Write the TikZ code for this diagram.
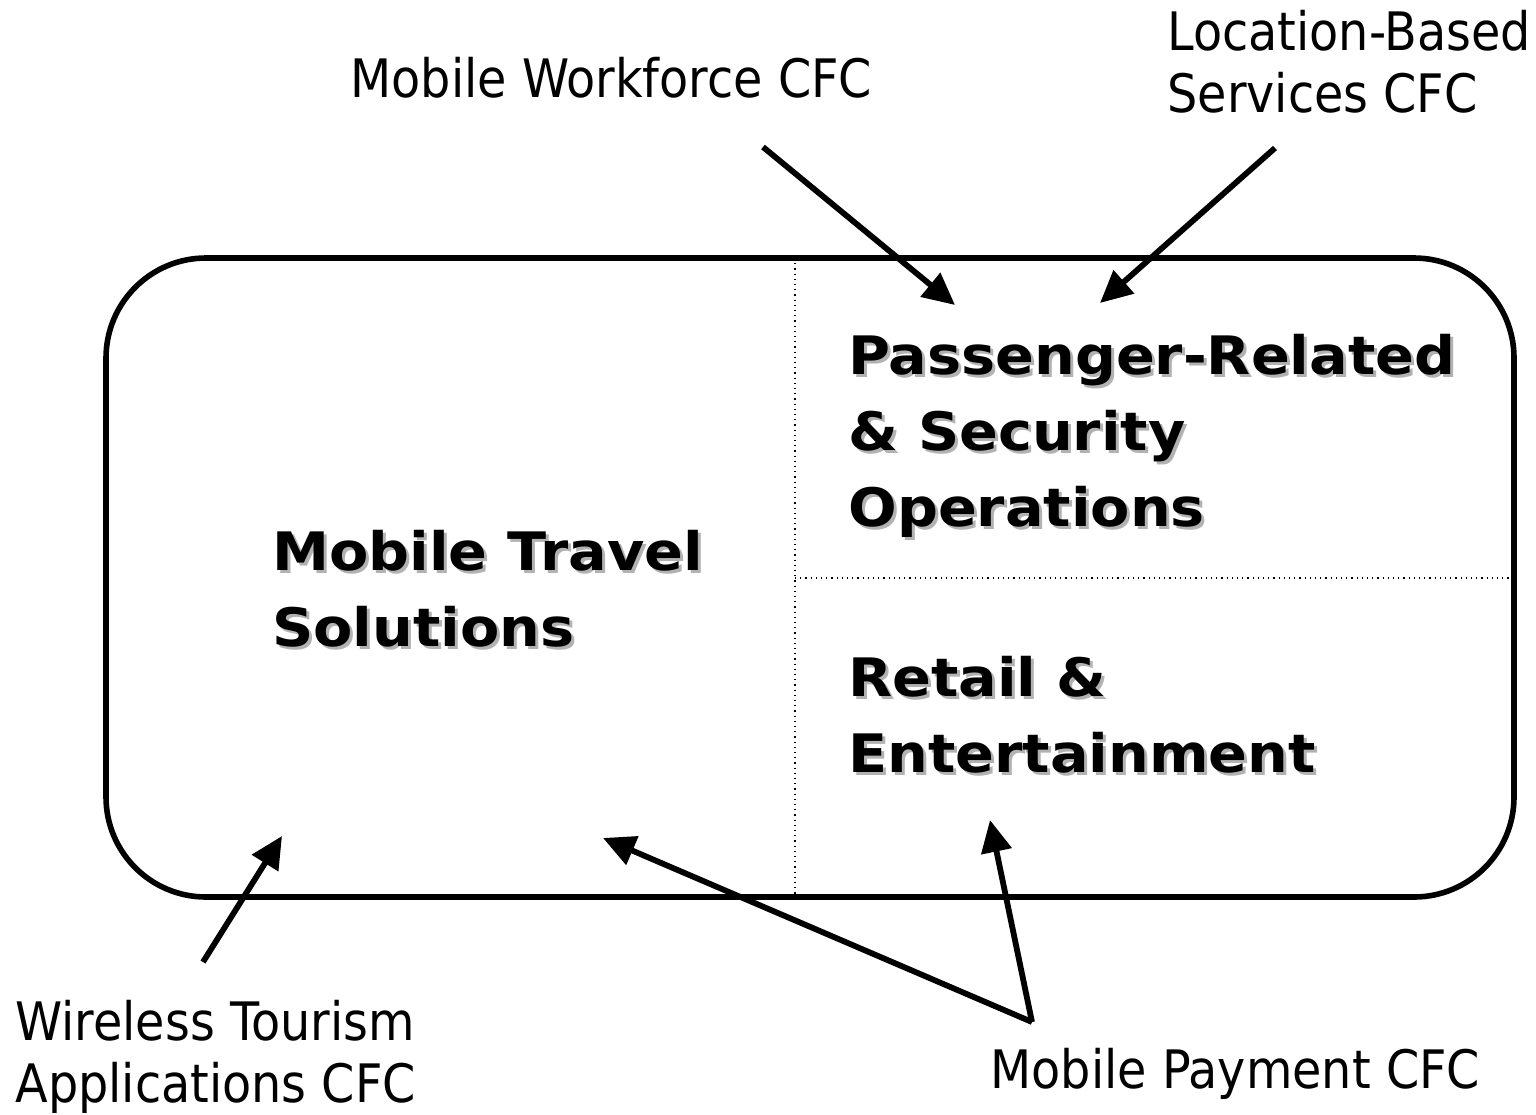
\documentclass[tikz,border=0pt]{standalone}
\usepackage{fontspec}
\setmainfont{DejaVu Sans}[FakeStretch=0.9]
\newfontfamily\bigfont{DejaVu Sans Bold}[FakeStretch=1.08]
\usetikzlibrary{arrows.meta}
\begin{document}
\begin{tikzpicture}[x=0.5pt,y=-0.5pt,
  lbl/.style={inner sep=0pt, anchor=base west, align=left, font=\fontsize{26.5}{31}\selectfont},
  big/.style={inner sep=0pt, anchor=base west, align=left, font=\fontsize{26.5}{38}\bigfont},
  bigshadow/.style={big, text=black!30},
  arr/.style={line width=2.9pt, -{Triangle[length=16pt,width=15pt]}},
  divider/.style={line width=0.6pt, dotted}]
\useasboundingbox (0,0) rectangle (1536,1114);
\fill[white] (0,0) rectangle (1536,1114);
% main box
\draw[line width=2.8pt, rounded corners=50pt] (106,258) rectangle (1514,897);
\coordinate (vtop) at (795,258);
\coordinate (vbot) at (795,897);
\coordinate (hl) at (795,578);
\coordinate (hr) at (1512,578);
\draw[divider] (vtop) -- (vbot);
\draw[divider] (hl) -- (hr);
% bold labels with shadow
\node[bigshadow] at (275,649) {Mobile Travel\\Solutions};
\node[big] (mts) at (272,646) {Mobile Travel\\Solutions};
\node[bigshadow] at (851,529) {Passenger-Related\\\& Security\\Operations};
\node[big] (prs) at (848,526) {Passenger-Related\\\& Security\\Operations};
\node[bigshadow] at (851,775) {Retail \&\\Entertainment};
\node[big] (ret) at (848,772) {Retail \&\\Entertainment};
% outer labels
\node[lbl] (mw) at (350,97) {Mobile Workforce CFC};
\node[lbl] (lbs) at (1167,112) {Location-Based\\Services CFC};
\node[lbl] (wt) at (15,1102) {Wireless Tourism\\Applications CFC};
\node[lbl] (mp) at (990,1088) {Mobile Payment CFC};
% arrows
\coordinate (mwS) at (763,147);
\coordinate (mwE) at (955,305);
\coordinate (lbS) at (1275,148);
\coordinate (lbE) at (1100,303);
\coordinate (wtS) at (203,962);
\coordinate (wtE) at (282,836);
\coordinate (mpV) at (1032,1022);
\coordinate (mpE1) at (603,838);
\coordinate (mpE2) at (990,820);
\draw[arr] (mwS) -- (mwE);
\draw[arr] (lbS) -- (lbE);
\draw[arr] (wtS) -- (wtE);
\draw[arr] (mpV) -- (mpE1);
\draw[arr] (mpV) -- (mpE2);
\end{tikzpicture}
\end{document}
